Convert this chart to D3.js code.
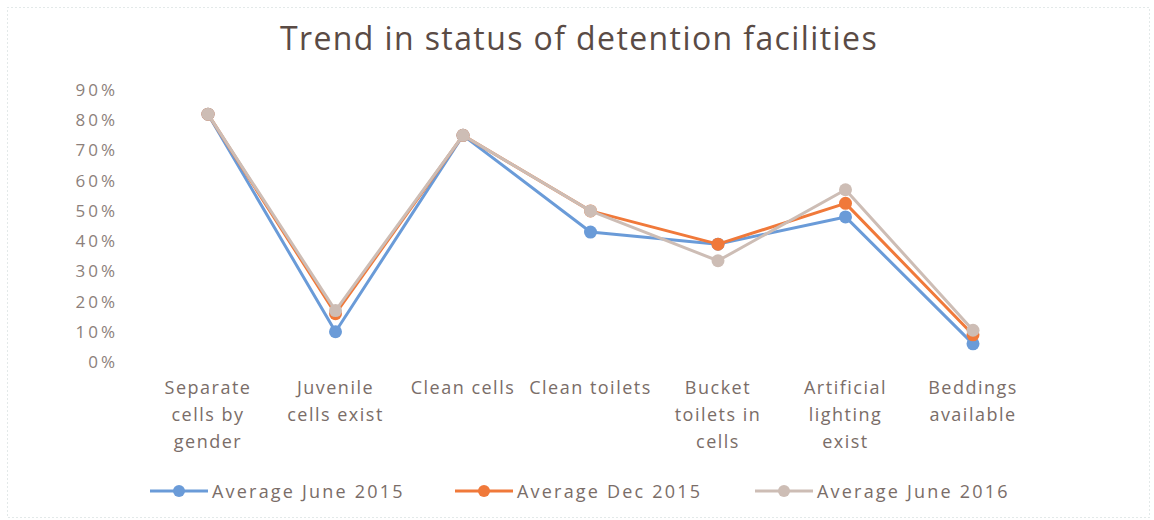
<!DOCTYPE html>
<html>
<head>
<meta charset="utf-8">
<script src="https://cdn.jsdelivr.net/npm/d3@7/dist/d3.min.js"></script>
<style>
  html, body { margin: 0; padding: 0; background: #fff; }
  svg { display: block; font-family: 'Open Sans', sans-serif; }
</style>
</head>
<body>
<div id="chart"></div>
<script>
'use strict';

/* ── Data ── */
const categories = [
  'Separate cells by gender',
  'Juvenile cells exist',
  'Clean cells',
  'Clean toilets',
  'Bucket toilets in cells',
  'Artificial lighting exist',
  'Beddings available'
];
const categoryLines = [
  ['Separate', 'cells by', 'gender'],
  ['Juvenile', 'cells exist'],
  ['Clean cells'],
  ['Clean toilets'],
  ['Bucket', 'toilets in', 'cells'],
  ['Artificial', 'lighting', 'exist'],
  ['Beddings', 'available']
];
const seriesNames = ['Average June 2015', 'Average Dec 2015', 'Average June 2016'];
const june2015 = [0.82, 0.10, 0.75, 0.43, 0.39, 0.48, 0.06];
const dec2015  = [0.82, 0.16, 0.75, 0.50, 0.39, 0.525, 0.09];
const june2016 = [0.82, 0.17, 0.75, 0.50, 0.335, 0.57, 0.105];
const yTicks = [0, 0.1, 0.2, 0.3, 0.4, 0.5, 0.6, 0.7, 0.8, 0.9];
const colors = ['#6a9bd8', '#f0793a', '#cdbdb5'];

const W = 1154, H = 520;
const svg = d3.select('#chart').append('svg')
  .attr('width', W).attr('height', H);

/* ── Frame ── */
svg.append('rect')
  .attr('x', 7.5).attr('y', 7.5).attr('width', 1142).attr('height', 510)
  .attr('fill', 'none').attr('stroke', '#c6d3d3')
  .attr('stroke-width', 1).attr('stroke-dasharray', '1,3');

/* ── Title ── */
svg.append('text')
  .attr('x', 579).attr('y', 50)
  .attr('text-anchor', 'middle')
  .style('font-size', '32px')
  .style('letter-spacing', '1.4px')
  .style('fill', '#5a4b45')
  .text('Trend in status of detention facilities');

/* ── Scales ── */
const x = d3.scalePoint().domain(categories).range([208, 973]);
const y = d3.scaleLinear().domain([0, 0.9]).range([362, 90]);

/* ── Y axis ── */
const yAxis = svg.append('g')
  .attr('transform', 'translate(118,0)')
  .call(d3.axisLeft(y).tickValues(yTicks).tickFormat(d3.format('.0%')).tickSize(0).tickPadding(0));
yAxis.select('.domain').remove();
yAxis.selectAll('text')
  .style('font-size', '17px')
  .style('letter-spacing', '3px')
  .style('fill', '#8c7f7b')
  .style('font-family', "'Open Sans', sans-serif");

/* ── X labels ── */
const xl = svg.append('g');
categories.forEach((c, i) => {
  const t = xl.append('text')
    .attr('x', x(c)).attr('y', 394)
    .attr('text-anchor', 'middle')
    .style('font-size', '18px')
    .style('letter-spacing', '1.5px')
    .style('fill', '#7a6d68');
  categoryLines[i].forEach((ln, j) => {
    t.append('tspan').attr('x', x(c)).attr('dy', j === 0 ? 0 : 27).text(ln);
  });
});

/* ── Lines ── */
const series = [june2015, dec2015, june2016];
const line = d3.line().x((d, i) => x(categories[i])).y(d => y(d));
series.forEach((vals, s) => {
  svg.append('path')
    .datum(vals)
    .attr('d', line)
    .attr('fill', 'none')
    .attr('stroke', colors[s])
    .attr('stroke-width', 3)
    .attr('stroke-linejoin', 'round');
  svg.append('g').selectAll('circle')
    .data(vals)
    .join('circle')
    .attr('cx', (d, i) => x(categories[i]))
    .attr('cy', d => y(d))
    .attr('r', 6.5)
    .attr('fill', colors[s]);
});

/* ── Legend ── */
const legendX = [150, 455, 755];
const legend = svg.append('g');
seriesNames.forEach((name, i) => {
  const g = legend.append('g').attr('transform', `translate(${legendX[i]},491)`);
  g.append('line').attr('x1', 0).attr('x2', 58).attr('y1', 0).attr('y2', 0)
    .attr('stroke', colors[i]).attr('stroke-width', 3);
  g.append('circle').attr('cx', 29).attr('cy', 0).attr('r', 6).attr('fill', colors[i]);
  g.append('text').attr('x', 62).attr('y', 7)
    .style('font-size', '18px')
    .style('letter-spacing', '2.2px')
    .style('fill', '#7a6d68')
    .text(name);
});
</script>
</body>
</html>
